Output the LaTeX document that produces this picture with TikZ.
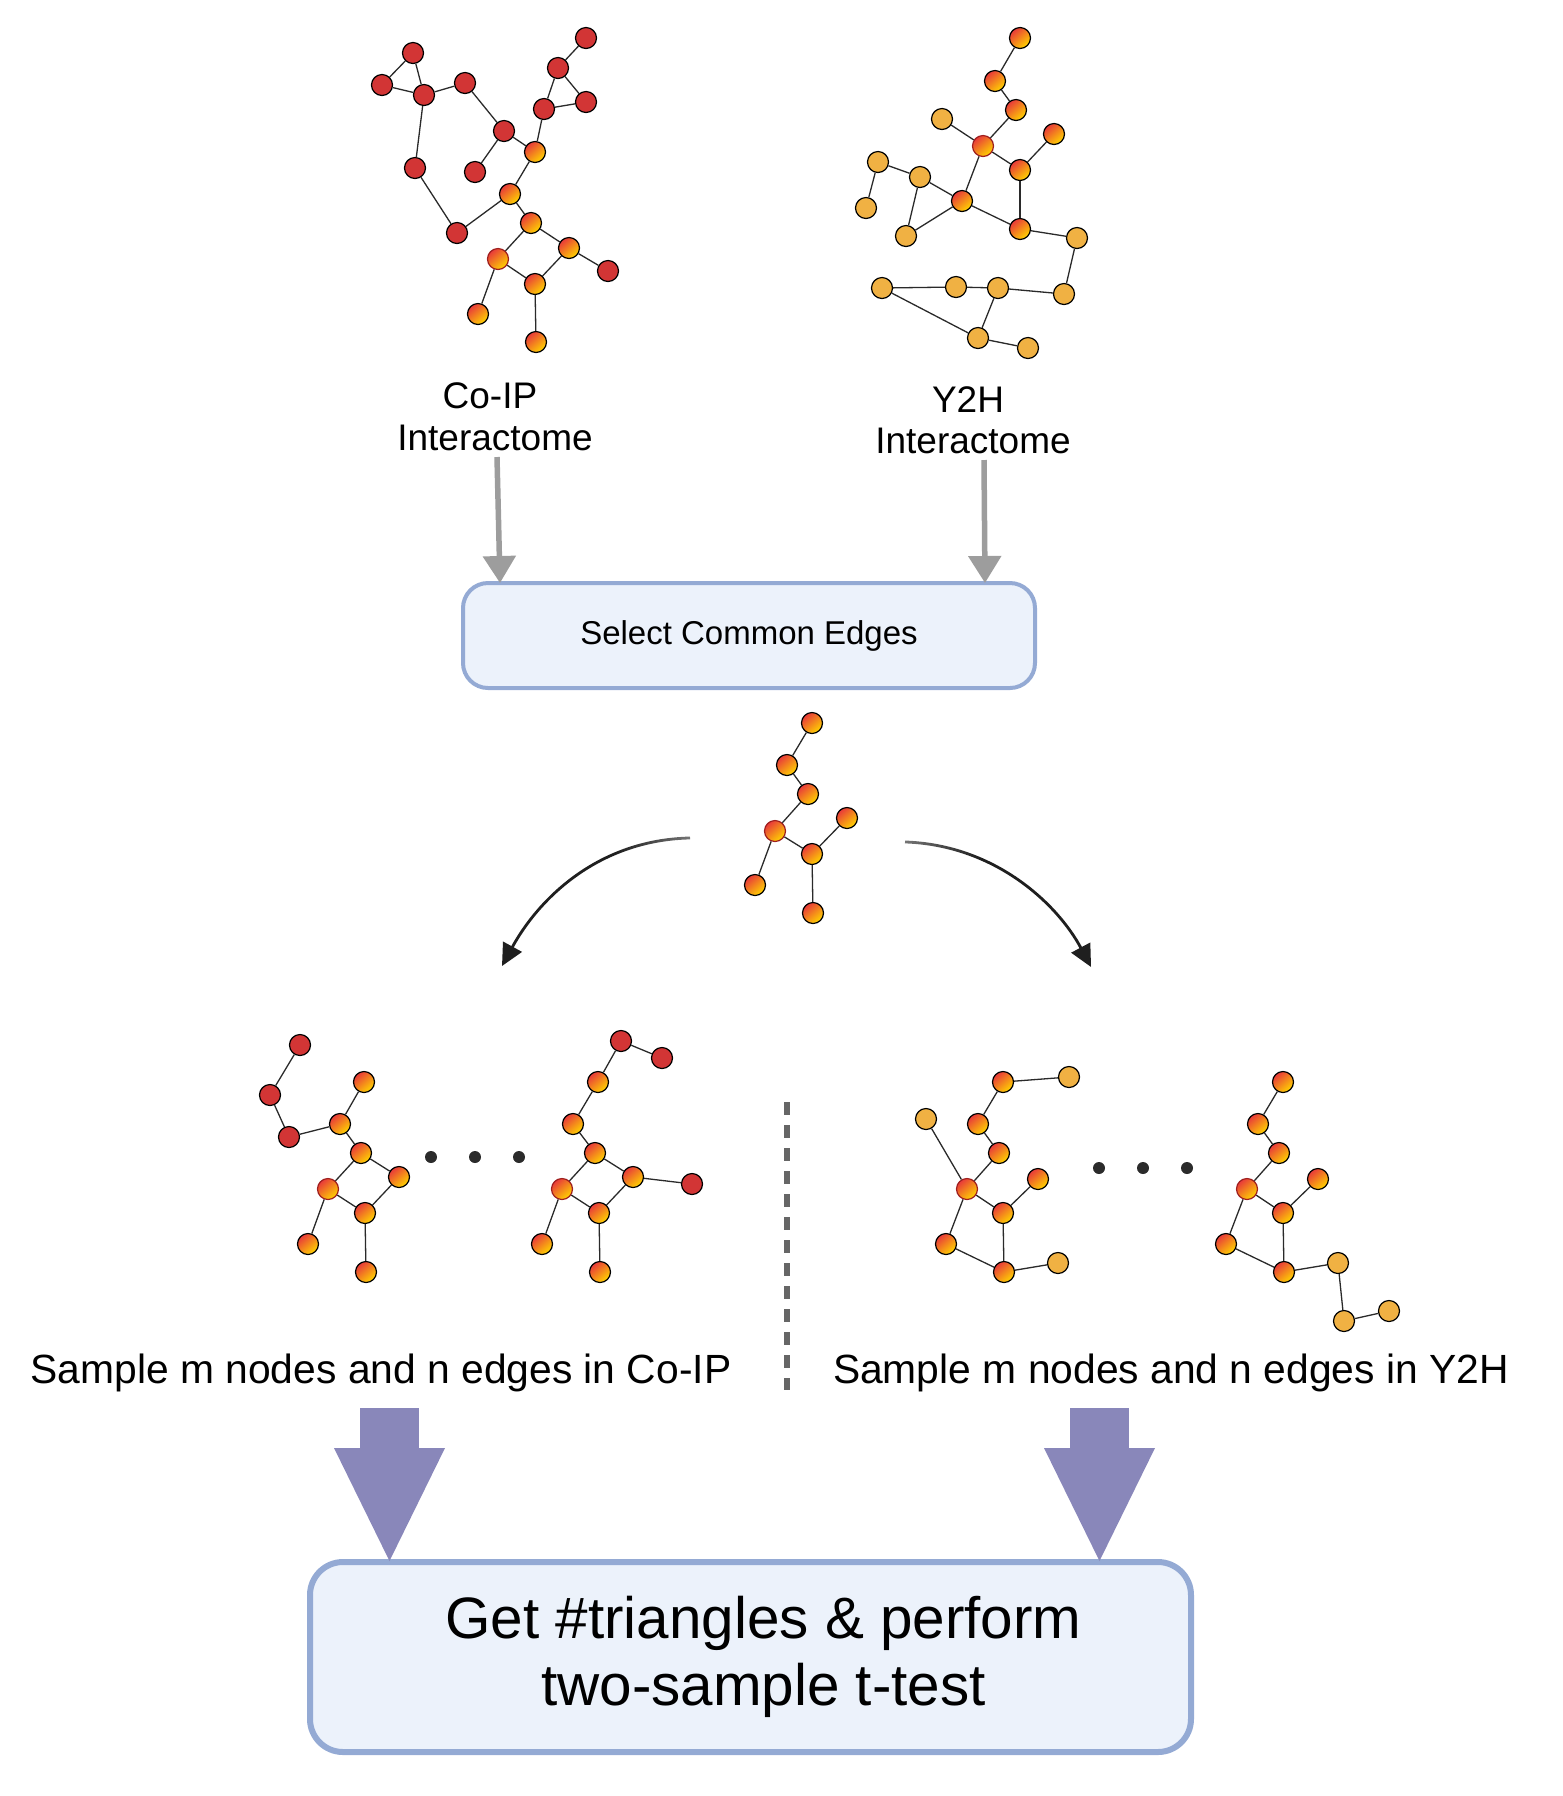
\documentclass[tikz,border=0pt]{standalone}
\usepackage{fontspec}
\setmainfont{Liberation Sans}
\usetikzlibrary{arrows.meta,fadings}
\definecolor{nodered}{HTML}{D23535}
\definecolor{nodeorange}{HTML}{F0B143}
\definecolor{gradred}{HTML}{E8393A}
\definecolor{gradyellow}{HTML}{FFD400}
\definecolor{hubborder}{HTML}{9E1F1F}
\definecolor{edgecol}{HTML}{2A2A2A}
\definecolor{boxborder}{HTML}{94AAD4}
\definecolor{boxfill}{HTML}{ECF2FB}
\definecolor{grayarrow}{HTML}{9D9D9D}
\definecolor{purplearrow}{HTML}{8987BA}
\definecolor{dashcol}{HTML}{666666}
\definecolor{dotcol}{HTML}{2B2B2B}
\pgfdeclarehorizontalshading{fadeshL}{100bp}{color(0bp)=(white); color(55bp)=(white); color(100bp)=(black!88)}
\pgfdeclarefading{fadeL}{\pgfuseshading{fadeshL}}
\pgfdeclarehorizontalshading{fadeshR}{100bp}{color(0bp)=(black!88); color(45bp)=(white); color(100bp)=(white)}
\pgfdeclarefading{fadeR}{\pgfuseshading{fadeshR}}
\begin{document}
\begin{tikzpicture}[x=0.5pt,y=-0.5pt,
  nd/.style={circle, draw=black, line width=0.6pt, minimum size=10.5pt, inner sep=0pt},
  rd/.style={nd, fill=nodered},
  og/.style={nd, fill=nodeorange},
  gr/.style={nd, top color=gradred, bottom color=gradyellow, shading angle=40},
  hub/.style={gr, draw=hubborder},
  edge/.style={draw=edgecol, line width=0.65pt},
  dotnode/.style={circle, fill=dotcol, minimum size=6pt, inner sep=0pt},
  lbl/.style={anchor=base, inner sep=0pt, font=\fontsize{18.5pt}{21pt}\selectfont},
  samplelbl/.style={anchor=base, inner sep=0pt, font=\fontsize{20.4pt}{24pt}\selectfont},
  selbox/.style={draw=boxborder, fill=boxfill, line width=2pt, rounded corners=12.5pt,
     minimum width=286pt, minimum height=52.5pt, font=\fontsize{16.5pt}{20pt}\selectfont},
  finalbox/.style={draw=boxborder, fill=boxfill, line width=3pt, rounded corners=16.5pt,
     minimum width=440.5pt, minimum height=95pt, align=center, font=\fontsize{29.2pt}{33.5pt}\selectfont},
  grayarr/.style={draw=grayarrow, line width=2.75pt, -{Triangle[width=16pt,length=13.5pt]}},
  curvearr/.style={draw=black!88, line width=1.4pt, -{Triangle[width=10.5pt,length=11pt]}},
  bigarr/.style={draw=purplearrow, fill=purplearrow, line width=29.5pt,
     -{Triangle[width=55.5pt,length=56.5pt,line width=0pt]}},
  dashline/.style={draw=dashcol, line width=3.2pt, dash pattern=on 6.5pt off 5pt}
]
\useasboundingbox (0,0) rectangle (1563,1796);

% ---------- Co-IP interactome ----------
\node[rd] (tlA1) at (413,53) {};
\node[rd] (tlA2) at (382,85) {};
\node[rd] (tlA3) at (424,95) {};
\node[rd] (tlA4) at (465,83) {};
\node[rd] (tlA5) at (504,131) {};
\node[rd] (tlA6) at (475,172) {};
\node[rd] (tlA7) at (415,168) {};
\node[rd] (tlA8) at (457,233) {};
\node[rd] (tlB1) at (586,38) {};
\node[rd] (tlB2) at (558,68) {};
\node[rd] (tlB3) at (586,102) {};
\node[rd] (tlB4) at (544,109) {};
\node[gr] (tlY1) at (535,152) {};
\node[gr] (tlY2) at (510,194) {};
\node[gr] (tlY3) at (531,223) {};
\node[gr] (tlY4) at (569,248) {};
\node[rd] (tlR9) at (608,271) {};
\node[hub] (tlY5) at (498,259) {};
\node[gr] (tlY6) at (535,284) {};
\node[gr] (tlY7) at (478,314) {};
\node[gr] (tlY8) at (536,342) {};
\foreach \a/\b in {tlA1/tlA2,tlA1/tlA3,tlA2/tlA3,tlA3/tlA4,tlA4/tlA5,tlA3/tlA7,tlA7/tlA8,tlA8/tlY2,
  tlA5/tlA6,tlA5/tlY1,tlY1/tlB4,tlB4/tlB2,tlB2/tlB1,tlB2/tlB3,tlB3/tlB4,tlY1/tlY2,tlY2/tlY3,
  tlY3/tlY5,tlY3/tlY4,tlY4/tlR9,tlY5/tlY6,tlY6/tlY4,tlY5/tlY7,tlY6/tlY8}
  \draw[edge] (\a) -- (\b);

% ---------- Y2H interactome ----------
\node[gr] (trC1) at (1020,38) {};
\node[gr] (trC2) at (995,81) {};
\node[gr] (trC3) at (1016,110) {};
\node[og] (trC4) at (942,119) {};
\node[hub] (trC5) at (983,146) {};
\node[gr] (trC6) at (1054,134) {};
\node[gr] (trC7) at (1020,170) {};
\node[og] (trC8) at (878,162) {};
\node[og] (trC9) at (920,177) {};
\node[og] (trC10) at (866,208) {};
\node[gr] (trC11) at (962,201) {};
\node[og] (trC12) at (906,236) {};
\node[gr] (trC13) at (1020,229) {};
\node[og] (trC14) at (1077,238) {};
\node[og] (trC15) at (882,288) {};
\node[og] (trC16) at (956,287) {};
\node[og] (trC17) at (998,288) {};
\node[og] (trC18) at (1064,294) {};
\node[og] (trC19) at (978,338) {};
\node[og] (trC20) at (1028,348) {};
\foreach \a/\b in {trC1/trC2,trC2/trC3,trC3/trC5,trC4/trC5,trC5/trC7,trC6/trC7,trC5/trC11,
  trC7/trC13,trC8/trC9,trC8/trC10,trC9/trC11,trC9/trC12,trC12/trC11,trC11/trC13,trC13/trC14,
  trC14/trC18,trC18/trC17,trC17/trC16,trC16/trC15,trC15/trC19,trC17/trC19,trC19/trC20}
  \draw[edge] (\a) -- (\b);

% ---------- labels ----------
\node[lbl] (coipT) at (490,408) {Co-IP};
\node[lbl] (coipI) at (495,450) {Interactome};
\node[lbl] (y2hT) at (968,412) {Y2H};
\node[lbl] (y2hI) at (973,453) {Interactome};

% ---------- select box ----------
\node[selbox] (sel) at (749,635.5) {Select Common Edges};
\coordinate (ga1s) at (497,457);
\coordinate (ga1e) at (500,583);
\coordinate (ga2s) at (984,460);
\coordinate (ga2e) at (985,583);
\draw[grayarr] (ga1s) -- (ga1e);
\draw[grayarr] (ga2s) -- (ga2e);

% ---------- common network ----------
\node[gr] (mM1) at (812,723) {};
\node[gr] (mM2) at (787,765) {};
\node[gr] (mM3) at (808,794) {};
\node[hub] (mM4) at (775,831) {};
\node[gr] (mM5) at (847,818) {};
\node[gr] (mM6) at (812,854) {};
\node[gr] (mM7) at (755,885) {};
\node[gr] (mM8) at (813,913) {};
\foreach \a/\b in {mM1/mM2,mM2/mM3,mM3/mM4,mM4/mM6,mM6/mM5,mM4/mM7,mM6/mM8}
  \draw[edge] (\a) -- (\b);

% ---------- curved arrows ----------
\coordinate (cLs) at (690,838);
\coordinate (cLe) at (502,966);
\coordinate (cRs) at (905,842);
\coordinate (cRe) at (1091,967);
\draw[curvearr, path fading=fadeL] (cLs) .. controls (597,840) and (538,900) .. (cLe);
\draw[curvearr, path fading=fadeR] (cRs) .. controls (996,845) and (1058,905) .. (cRe);

% ---------- Co-IP samples ----------
\node[rd] (lL1) at (300,1045) {};
\node[rd] (lL2) at (270,1095) {};
\node[rd] (lL3) at (289,1137) {};
\node[gr] (lL4) at (364,1082) {};
\node[gr] (lL5) at (340,1124) {};
\node[gr] (lL6) at (361,1153) {};
\node[gr] (lL7) at (399,1177) {};
\node[hub] (lL8) at (328,1189) {};
\node[gr] (lL9) at (365,1213) {};
\node[gr] (lL10) at (308,1244) {};
\node[gr] (lL11) at (366,1272) {};
\foreach \a/\b in {lL1/lL2,lL2/lL3,lL3/lL5,lL5/lL4,lL5/lL6,lL6/lL8,lL6/lL7,lL8/lL9,lL9/lL7,lL8/lL10,lL9/lL11}
  \draw[edge] (\a) -- (\b);

\node[dotnode] (ld1) at (431,1157) {};
\node[dotnode] (ld2) at (475,1157) {};
\node[dotnode] (ld3) at (519,1157) {};

\node[rd] (lR1) at (621,1041) {};
\node[rd] (lR2) at (662,1058) {};
\node[gr] (lR3) at (598,1082) {};
\node[gr] (lR4) at (573,1124) {};
\node[gr] (lR5) at (595,1153) {};
\node[gr] (lR6) at (633,1177) {};
\node[rd] (lR7) at (692,1184) {};
\node[hub] (lR8) at (562,1189) {};
\node[gr] (lR9) at (599,1213) {};
\node[gr] (lR10) at (542,1244) {};
\node[gr] (lR11) at (600,1272) {};
\foreach \a/\b in {lR1/lR2,lR1/lR3,lR3/lR4,lR4/lR5,lR5/lR8,lR5/lR6,lR6/lR7,lR8/lR9,lR9/lR6,lR8/lR10,lR9/lR11}
  \draw[edge] (\a) -- (\b);

% ---------- Y2H samples ----------
\node[gr] (rS1) at (1003,1082) {};
\node[og] (rS2) at (1069,1077) {};
\node[og] (rS3) at (926,1119) {};
\node[gr] (rS4) at (978,1124) {};
\node[gr] (rS5) at (999,1153) {};
\node[hub] (rS6) at (967,1189) {};
\node[gr] (rS7) at (1038,1179) {};
\node[gr] (rS8) at (1003,1213) {};
\node[gr] (rS9) at (946,1244) {};
\node[gr] (rS10) at (1004,1272) {};
\node[og] (rS11) at (1058,1263) {};
\foreach \a/\b in {rS1/rS2,rS1/rS4,rS4/rS5,rS5/rS6,rS3/rS6,rS6/rS8,rS8/rS7,rS6/rS9,rS9/rS10,rS8/rS10,rS10/rS11}
  \draw[edge] (\a) -- (\b);

\node[dotnode] (rd1) at (1099,1168) {};
\node[dotnode] (rd2) at (1143,1168) {};
\node[dotnode] (rd3) at (1187,1168) {};

\node[gr] (rT1) at (1283,1082) {};
\node[gr] (rT2) at (1258,1124) {};
\node[gr] (rT3) at (1279,1153) {};
\node[hub] (rT4) at (1247,1189) {};
\node[gr] (rT5) at (1318,1179) {};
\node[gr] (rT6) at (1283,1213) {};
\node[gr] (rT7) at (1226,1244) {};
\node[gr] (rT8) at (1284,1272) {};
\node[og] (rT9) at (1338,1263) {};
\node[og] (rT10) at (1344,1321) {};
\node[og] (rT11) at (1389,1311) {};
\foreach \a/\b in {rT1/rT2,rT2/rT3,rT3/rT4,rT4/rT6,rT6/rT5,rT4/rT7,rT7/rT8,rT6/rT8,rT8/rT9,rT9/rT10,rT10/rT11}
  \draw[edge] (\a) -- (\b);

% ---------- divider ----------
\coordinate (dvT) at (787,1102);
\coordinate (dvB) at (787,1390);
\draw[dashline] (dvT) -- (dvB);

% ---------- sample labels ----------
\node[samplelbl] (sampL) at (381,1383) {Sample m nodes and n edges in Co-IP};
\node[samplelbl] (sampR) at (1171,1383) {Sample m nodes and n edges in Y2H};

% ---------- final box and arrows ----------
\node[finalbox] (final) at (750.5,1657) {\hspace*{13pt}Get \#triangles \& perform\\\hspace*{13pt}two-sample t-test};
\coordinate (pa1s) at (389.5,1408);
\coordinate (pa1e) at (389.5,1561);
\coordinate (pa2s) at (1099.5,1408);
\coordinate (pa2e) at (1099.5,1561);
\draw[bigarr] (pa1s) -- (pa1e);
\draw[bigarr] (pa2s) -- (pa2e);
\end{tikzpicture}
\end{document}
